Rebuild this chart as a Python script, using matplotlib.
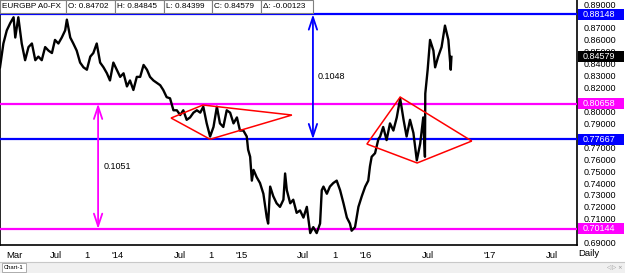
import matplotlib
matplotlib.use('Agg')
import matplotlib.pyplot as plt
import matplotlib.dates as mdates
import matplotlib.transforms as mtrans
from matplotlib.patches import Rectangle, Polygon
import pandas as pd

# Daily EURGBP closes (approx.)
dates = ['2013-01-18', '2013-01-28', '2013-02-07', '2013-02-17', '2013-02-27', '2013-03-04',
         '2013-03-13', '2013-03-23', '2013-04-02', '2013-04-12', '2013-04-22', '2013-05-02',
         '2013-05-11', '2013-05-21', '2013-05-31', '2013-06-10', '2013-06-20', '2013-06-29',
         '2013-07-09', '2013-07-19', '2013-07-29', '2013-08-03', '2013-08-13', '2013-08-22',
         '2013-09-01', '2013-09-11', '2013-09-21', '2013-10-01', '2013-10-11', '2013-10-20',
         '2013-10-30', '2013-11-09', '2013-11-19', '2013-11-29', '2013-12-08', '2013-12-18',
         '2013-12-28', '2014-01-07', '2014-01-17', '2014-01-27', '2014-02-05', '2014-02-15',
         '2014-02-25', '2014-03-07', '2014-03-17', '2014-03-27', '2014-04-05', '2014-04-15',
         '2014-04-25', '2014-05-05', '2014-05-14', '2014-05-24', '2014-06-03', '2014-06-13',
         '2014-06-23', '2014-07-03', '2014-07-12', '2014-07-22', '2014-08-01', '2014-08-11',
         '2014-08-21', '2014-08-31', '2014-09-09', '2014-09-19', '2014-09-29', '2014-10-09',
         '2014-10-19', '2014-10-28', '2014-11-07', '2014-11-17', '2014-11-27', '2014-12-07',
         '2014-12-17', '2014-12-26', '2015-01-05', '2015-01-15', '2015-01-19', '2015-01-25',
         '2015-01-30', '2015-02-04', '2015-02-13', '2015-02-23', '2015-03-05', '2015-03-15',
         '2015-03-19', '2015-03-25', '2015-04-03', '2015-04-13', '2015-04-23', '2015-05-03',
         '2015-05-08', '2015-05-13', '2015-05-23', '2015-06-01', '2015-06-11', '2015-06-21',
         '2015-07-01', '2015-07-11', '2015-07-21', '2015-07-30', '2015-08-09', '2015-08-19',
         '2015-08-24', '2015-08-29', '2015-09-08', '2015-09-17', '2015-09-27', '2015-10-07',
         '2015-10-17', '2015-10-27', '2015-11-06', '2015-11-15', '2015-11-20', '2015-11-30',
         '2015-12-10', '2015-12-20', '2015-12-30', '2016-01-08', '2016-01-13', '2016-01-18',
         '2016-01-28', '2016-02-07', '2016-02-12', '2016-02-21', '2016-03-02', '2016-03-12',
         '2016-03-22', '2016-04-01', '2016-04-11', '2016-04-21', '2016-04-30', '2016-05-10',
         '2016-05-20', '2016-05-30', '2016-06-09', '2016-06-18', '2016-06-23', '2016-06-24',
         '2016-07-01', '2016-07-08', '2016-07-18', '2016-07-23', '2016-08-01', '2016-08-11',
         '2016-08-21', '2016-08-31', '2016-09-07', '2016-09-09']
closes = [0.837, 0.857, 0.868, 0.874, 0.879, 0.862,
          0.879, 0.857, 0.843, 0.854, 0.857, 0.843,
          0.846, 0.843, 0.854, 0.851, 0.849, 0.860,
          0.857, 0.862, 0.868, 0.877, 0.862, 0.857,
          0.851, 0.841, 0.837, 0.835, 0.846, 0.849,
          0.857, 0.841, 0.837, 0.832, 0.826, 0.841,
          0.835, 0.829, 0.832, 0.821, 0.826, 0.818,
          0.829, 0.829, 0.839, 0.835, 0.829, 0.826,
          0.824, 0.822, 0.818, 0.812, 0.811, 0.801,
          0.801, 0.797, 0.801, 0.793, 0.795, 0.799,
          0.801, 0.799, 0.804, 0.790, 0.779, 0.787,
          0.804, 0.790, 0.787, 0.801, 0.799, 0.790,
          0.795, 0.784, 0.784, 0.779, 0.768, 0.762,
          0.742, 0.751, 0.745, 0.740, 0.731, 0.711,
          0.706, 0.737, 0.729, 0.723, 0.720, 0.726,
          0.748, 0.734, 0.723, 0.726, 0.715, 0.717,
          0.711, 0.720, 0.698, 0.703, 0.698, 0.706,
          0.734, 0.737, 0.731, 0.737, 0.740, 0.742,
          0.734, 0.723, 0.711, 0.706, 0.700, 0.703,
          0.720, 0.729, 0.737, 0.742, 0.754, 0.762,
          0.765, 0.777, 0.779, 0.787, 0.776, 0.790,
          0.784, 0.795, 0.811, 0.793, 0.779, 0.793,
          0.782, 0.759, 0.773, 0.795, 0.762, 0.815,
          0.835, 0.860, 0.851, 0.837, 0.846, 0.854,
          0.872, 0.860, 0.835, 0.84579]

# horizontal levels (value, colour)
levels = [0.88148, 0.80658, 0.77667, 0.70144]
level_colors = ['#0000ff', '#ff00ff', '#0000ff', '#ff00ff']
last_close = 0.84579

# triangles drawn on the chart
tri1_dates = ['2014-06-06', '2014-09-08', '2015-05-28', '2014-09-29']
tri1_vals = [0.7945, 0.8054, 0.7970, 0.7767]
tri2_dates = ['2016-01-04', '2016-04-11', '2016-11-08', '2016-05-31']
tri2_vals = [0.7727, 0.8121, 0.7752, 0.7568]

# measuring arrows
arrow_dates = ['2013-11-03', '2015-07-29']
arrow_ranges = [(0.80658, 0.70144), (0.88148, 0.77667)]
arrow_labels = ['0.1051', '0.1048']
arrow_colors = ['#ff00ff', '#0000ff']

tick_dates = ['2013-03-01', '2013-07-01', '2013-10-01', '2014-01-01', '2014-07-01',
              '2014-10-01', '2015-01-01', '2015-07-01', '2015-10-01', '2016-01-01',
              '2016-07-01', '2017-01-01', '2017-07-01']
tick_labels = ['Mar', 'Jul', '1', "'14", 'Jul', '1', "'15", 'Jul', '1', "'16",
               'Jul', "'17", 'Jul']

# price scale labels (the ones hidden behind level boxes are left out)
price_ticks = [0.69, 0.70, 0.71, 0.72, 0.73, 0.74, 0.75, 0.76, 0.77, 0.79,
               0.80, 0.82, 0.83, 0.84, 0.85, 0.86, 0.87, 0.89]

header = ['EURGBP A0-FX', 'O: 0.84702', 'H: 0.84845', 'L: 0.84399', 'C: 0.84579',
          '\u0394: -0.00123']

plt.rcParams['font.family'] = ['Liberation Sans', 'DejaVu Sans']

W, H = 625, 273
fig = plt.figure(figsize=(W / 100, H / 100), dpi=100)
fig.patch.set_facecolor('white')
ax = fig.add_axes([0, 1 - 245 / H, 577 / W, 245 / H])

d = pd.to_datetime(dates)
ax.plot(d, closes, color='black', lw=1.7, zorder=4)

for lv, c in zip(levels, level_colors):
    ax.axhline(lv, color=c, lw=1.6, zorder=3)

for td, tv in [(tri1_dates, tri1_vals), (tri2_dates, tri2_vals)]:
    pts = list(zip(mdates.date2num(pd.to_datetime(td)), tv))
    ax.add_patch(Polygon(pts, closed=True, fill=False, ec='#ff0000', lw=1.1, zorder=5))

for ad, (a, b), lab, c in zip(arrow_dates, arrow_ranges, arrow_labels, arrow_colors):
    x = mdates.date2num(pd.Timestamp(ad))
    ax.annotate('', xy=(x, b), xytext=(x, a),
                arrowprops=dict(arrowstyle='<->,head_length=0.9,head_width=0.3',
                                color=c, lw=1.3, shrinkA=0, shrinkB=0), zorder=5)
    ax.text(x + 15, (a + b) / 2, lab, fontsize=6.5, va='center', ha='left', zorder=6)

ax.set_xlim(pd.Timestamp('2013-01-18'), pd.Timestamp('2017-09-14'))
ax.set_ylim(0.68802, 0.89347)

ax.set_xticks(pd.to_datetime(tick_dates))
ax.set_xticklabels(tick_labels)
ax.tick_params(axis='x', length=0, labelsize=6.8, pad=4)

ax.yaxis.tick_right()
ax.set_yticks(price_ticks)
ax.set_yticklabels(['%.5f' % p for p in price_ticks])
ax.tick_params(axis='y', length=0, labelsize=6.5, pad=5)

ax.spines['top'].set_visible(False)
for s in ['left', 'right', 'bottom']:
    ax.spines[s].set_linewidth(1.2)

# coloured price boxes on the right axis
blend = mtrans.blended_transform_factory(ax.transAxes, ax.transData)
box_vals = levels + [last_close]
box_colors = level_colors + ['black']
hh = 5.5 / 1192.5
for v, c in zip(box_vals, box_colors):
    ax.add_patch(Rectangle((1.002, v - hh), 0.08, 2 * hh, transform=blend,
                           fc=c, ec='none', clip_on=False, zorder=7))
    ax.text(1.009, v, '%.5f' % v, transform=blend, color='white', fontsize=6.5,
            va='center', ha='left', clip_on=False, zorder=8)

# header strip
edges = [0, 66, 115, 164, 212, 261, 313]
for i, t in enumerate(header):
    x0, x1 = edges[i], edges[i + 1]
    fig.patches.append(Rectangle((x0 / W, 1 - 12.5 / H), (x1 - x0) / W, 12.5 / H,
                                 transform=fig.transFigure, fc='white', ec='#808080',
                                 lw=0.8, zorder=10))
    fig.text((x0 + 2) / W, 1 - 6.5 / H, t, fontsize=5.9, va='center', ha='left', zorder=11)

# bottom bar
fig.text(589 / W, 1 - 253 / H, 'Daily', fontsize=6.8, va='center', ha='center')
fig.patches.append(Rectangle((0, 0), 1, 11 / H, transform=fig.transFigure,
                             fc='#f0f0f0', ec='none', zorder=1))
fig.lines.append(plt.Line2D([0, 1], [11 / H, 11 / H], transform=fig.transFigure,
                            color='#c8c8c8', lw=0.8))
fig.patches.append(Rectangle((2 / W, 1 / H), 24 / W, 9 / H, transform=fig.transFigure,
                             fc='white', ec='#a0a0a0', lw=0.6, zorder=2))
fig.text(14 / W, 5.5 / H, 'Chart-1', fontsize=4.2, va='center', ha='center', zorder=3)
fig.text(614 / W, 5.5 / H, '\u25c1 \u25b7 \u00d7', fontsize=4, va='center', ha='center',
         color='#909090', family=['DejaVu Sans'])

fig.savefig('out.png', dpi=100)
